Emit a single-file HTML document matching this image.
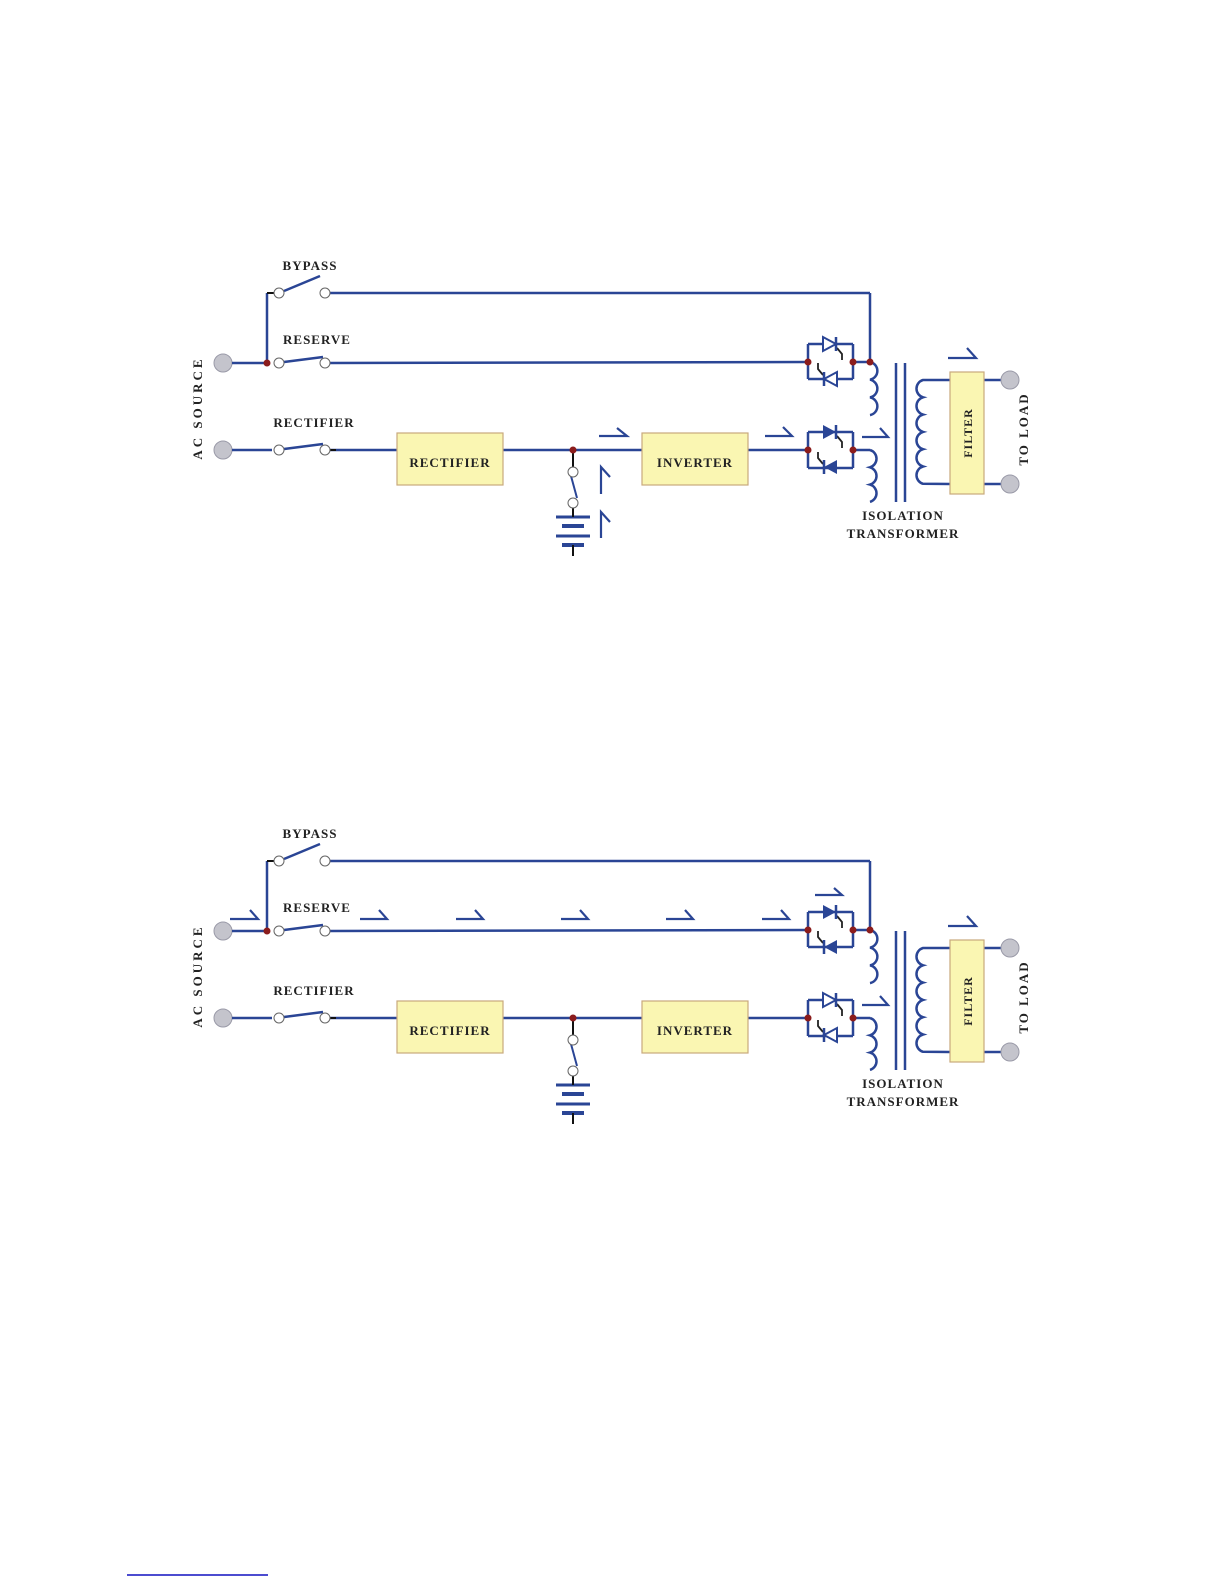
<!DOCTYPE html>
<html><head><meta charset="utf-8"><style>
html,body{margin:0;padding:0;background:#fff;}
svg{display:block;}
text{font-family:"Liberation Serif",serif;font-weight:bold;font-size:13px;fill:#222;letter-spacing:1px;}
</style></head><body>
<svg width="1225" height="1585" viewBox="0 0 1225 1585" xmlns="http://www.w3.org/2000/svg">
<defs>
<g id="base">
  <!-- AC sources -->
  <circle cx="223" cy="363" r="9" fill="#c4c4cc" stroke="#9a9aa8" stroke-width="1"/>
  <circle cx="223" cy="450" r="9" fill="#c4c4cc" stroke="#9a9aa8" stroke-width="1"/>
  <g stroke="#2a4595" stroke-width="2.5" fill="none">
    <line x1="232" y1="363" x2="267" y2="363"/>
    <line x1="267" y1="363" x2="267" y2="293"/>
    <line x1="330" y1="293" x2="870" y2="293"/>
    <line x1="870" y1="293" x2="870" y2="362"/>
    <line x1="330" y1="363" x2="808" y2="362"/>
    <line x1="232" y1="450" x2="272" y2="450"/>
    <line x1="330" y1="450" x2="397" y2="450"/>
    <line x1="503" y1="450" x2="642" y2="450"/>
    <line x1="748" y1="450" x2="808" y2="450"/>
    <line x1="853" y1="362" x2="870" y2="362"/>
    <line x1="853" y1="450" x2="870" y2="450"/>
    <!-- switch blades -->
    <line x1="284" y1="291" x2="320" y2="276"/>
    <line x1="284" y1="362" x2="323" y2="357"/>
    <line x1="284" y1="449" x2="323" y2="444"/>
    <line x1="571" y1="476" x2="577" y2="498" stroke-width="2"/>
    <!-- coils -->
    <path d="M870 362 a9 9 0 0 1 0 17.7 a9 9 0 0 1 0 17.7 a9 9 0 0 1 0 17.7"/>
    <path d="M870 450 a9 9 0 0 1 0 17.3 a9 9 0 0 1 0 17.3 a9 9 0 0 1 0 17.3"/>
    <path d="M950 380 L923 380 a9 9 0 0 0 0 17.3 a9 9 0 0 0 0 17.3 a9 9 0 0 0 0 17.3 a9 9 0 0 0 0 17.3 a9 9 0 0 0 0 17.3 a9 9 0 0 0 0 17.3 L950 484"/>
    <line x1="896" y1="363" x2="896" y2="502"/>
    <line x1="905" y1="363" x2="905" y2="502"/>
    <line x1="984" y1="380" x2="1001" y2="380"/>
    <line x1="984" y1="484" x2="1001" y2="484"/>
    <!-- bridges -->
    <path d="M808 344 L808 379 M853 344 L853 379 M808 344 L853 344 M808 379 L853 379"/>
    <path d="M808 432 L808 468 M853 432 L853 468 M808 432 L853 432 M808 468 L853 468"/>
    <!-- battery -->
    <line x1="556" y1="517" x2="590" y2="517" stroke-width="3"/>
    <line x1="562" y1="526" x2="584" y2="526" stroke-width="4"/>
    <line x1="556" y1="536" x2="590" y2="536" stroke-width="3"/>
    <line x1="562" y1="545" x2="584" y2="545" stroke-width="4"/>
    <!-- gate leads -->
    <path d="M837 348 L842 354 L842 360" stroke="#222" stroke-width="1.8"/>
    <path d="M823 375 L818 369 L818 363" stroke="#222" stroke-width="1.8"/>
    <path d="M837 436 L842 442 L842 448" stroke="#222" stroke-width="1.8"/>
    <path d="M823 464 L818 458 L818 452" stroke="#222" stroke-width="1.8"/>
  </g>
  <g stroke="#111" stroke-width="2">
    <line x1="267" y1="293" x2="274" y2="293"/>
    <line x1="330" y1="450" x2="336" y2="450"/>
    <line x1="573" y1="450" x2="573" y2="467"/>
    <line x1="573" y1="508" x2="573" y2="517"/>
    <line x1="573" y1="545" x2="573" y2="556"/>
  </g>
  <!-- switch contacts -->
  <g fill="#fff" stroke="#666" stroke-width="1">
    <circle cx="279" cy="293" r="5"/><circle cx="325" cy="293" r="5"/>
    <circle cx="279" cy="363" r="5"/><circle cx="325" cy="363" r="5"/>
    <circle cx="279" cy="450" r="5"/><circle cx="325" cy="450" r="5"/>
    <circle cx="573" cy="472" r="5"/><circle cx="573" cy="503" r="5"/>
  </g>
  <!-- boxes -->
  <g fill="#faf6b2" stroke="#c9a97c" stroke-width="1.2">
    <rect x="397" y="433" width="106" height="52"/>
    <rect x="642" y="433" width="106" height="52"/>
    <rect x="950" y="372" width="34" height="122"/>
  </g>
  <circle cx="1010" cy="380" r="9" fill="#c4c4cc" stroke="#9a9aa8"/>
  <circle cx="1010" cy="484" r="9" fill="#c4c4cc" stroke="#9a9aa8"/>
  <!-- junction dots -->
  <g fill="#8b1c1c">
    <circle cx="267" cy="363" r="3.5"/>
    <circle cx="573" cy="450" r="3.5"/>
    <circle cx="808" cy="362" r="3.5"/><circle cx="853" cy="362" r="3.5"/><circle cx="870" cy="362" r="3.5"/>
    <circle cx="808" cy="450" r="3.5"/><circle cx="853" cy="450" r="3.5"/>
  </g>
  <!-- filter arrow -->
  <path d="M948 358 L976 358 L967 348" stroke="#2a4595" stroke-width="2.2" fill="none"/>
  <!-- arrow right of bridge 2 -->
  <path d="M862 437 L888 437 L880 428" stroke="#2a4595" stroke-width="2.2" fill="none"/>
</g>
<g id="thyA">
  <!-- top thyristor hollow -->
  <polygon points="823,337 823,351 836,344" fill="#fff" stroke="#2a4595" stroke-width="2"/>
  <line x1="836" y1="337" x2="836" y2="351" stroke="#2a4595" stroke-width="2.5"/>
  <polygon points="837,372 837,386 824,379" fill="#fff" stroke="#2a4595" stroke-width="2"/>
  <line x1="824" y1="372" x2="824" y2="386" stroke="#2a4595" stroke-width="2.5"/>
</g>
<g id="thyF">
  <polygon points="823,337 823,351 836,344" fill="#2a4595"/>
  <line x1="836" y1="337" x2="836" y2="351" stroke="#2a4595" stroke-width="2.5"/>
  <polygon points="837,372 837,386 824,379" fill="#2a4595"/>
  <line x1="824" y1="372" x2="824" y2="386" stroke="#2a4595" stroke-width="2.5"/>
</g>
</defs>

<!-- ===== Diagram 1 ===== -->
<use href="#base"/>
<use href="#thyA"/>
<use href="#thyF" transform="translate(0,88)"/>
<g stroke="#2a4595" stroke-width="2.2" fill="none">
  <path d="M599 436 L627 436 L617 428"/>
  <path d="M765 436 L792 436 L783 427"/>
  <path d="M601 494 L601 467 L610 477"/>
  <path d="M601 538 L601 512 L610 522"/>
</g>
<text x="310" y="270" text-anchor="middle">BYPASS</text>
<text x="317" y="344" text-anchor="middle">RESERVE</text>
<text x="314" y="427" text-anchor="middle">RECTIFIER</text>
<text x="450" y="467" text-anchor="middle">RECTIFIER</text>
<text x="695" y="467" text-anchor="middle">INVERTER</text>
<text transform="translate(202,408) rotate(-90)" text-anchor="middle" style="letter-spacing:3px">AC  SOURCE</text>
<text transform="translate(1028,429) rotate(-90)" text-anchor="middle" style="letter-spacing:2px">TO LOAD</text>
<text transform="translate(972,433) rotate(-90)" text-anchor="middle" style="font-size:12px">FILTER</text>
<text x="903" y="520" text-anchor="middle">ISOLATION</text>
<text x="903" y="538" text-anchor="middle">TRANSFORMER</text>

<!-- ===== Diagram 2 ===== -->
<g transform="translate(0,568)">
<use href="#base"/>
<use href="#thyF"/>
<use href="#thyA" transform="translate(0,88)"/>
<g stroke="#2a4595" stroke-width="2.2" fill="none">
  <path d="M230 351 L258 351 L250 342"/>
  <path d="M360 351 L387 351 L379 342"/>
  <path d="M456 351 L483 351 L475 342"/>
  <path d="M561 351 L588 351 L580 342"/>
  <path d="M666 351 L693 351 L685 342"/>
  <path d="M762 351 L789 351 L781 342"/>
  <path d="M815 327 L842 327 L834 320"/>
</g>
<text x="310" y="270" text-anchor="middle">BYPASS</text>
<text x="317" y="344" text-anchor="middle">RESERVE</text>
<text x="314" y="427" text-anchor="middle">RECTIFIER</text>
<text x="450" y="467" text-anchor="middle">RECTIFIER</text>
<text x="695" y="467" text-anchor="middle">INVERTER</text>
<text transform="translate(202,408) rotate(-90)" text-anchor="middle" style="letter-spacing:3px">AC  SOURCE</text>
<text transform="translate(1028,429) rotate(-90)" text-anchor="middle" style="letter-spacing:2px">TO LOAD</text>
<text transform="translate(972,433) rotate(-90)" text-anchor="middle" style="font-size:12px">FILTER</text>
<text x="903" y="520" text-anchor="middle">ISOLATION</text>
<text x="903" y="538" text-anchor="middle">TRANSFORMER</text>
</g>

<line x1="127" y1="1575" x2="268" y2="1575" stroke="#1010c0" stroke-width="1.5"/>
</svg>
</body></html>
